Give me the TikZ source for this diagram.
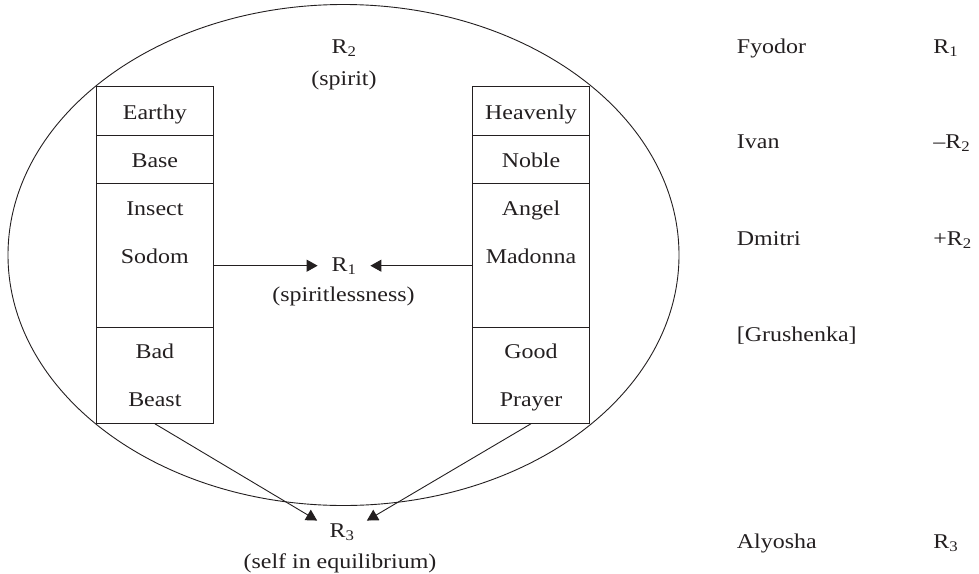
\documentclass[tikz,border=0pt]{standalone}
\usepackage{fontspec}
\setmainfont{Liberation Serif}[FakeStretch=1.14]
\usepackage{xcolor}
\usepackage{tikz}
\usetikzlibrary{arrows.meta}

\definecolor{ink}{RGB}{35,31,32}
\newcommand{\wordfont}{\fontsize{21}{29}\selectfont}

\tikzset{
	>={Triangle[length=11pt,width=12pt]},
	cellbox/.style = {
			draw,
			rectangle,
			inner sep = 0pt,
			minimum width = 116.5pt,
		},
	celltext/.style = {
			inner sep = 0pt,
			anchor = base,
			font = \wordfont,
		},
	rtag/.style = {
			celltext,
			text height = 14pt,
			text depth = 2pt,
			inner ysep = 2pt,
		},
	persona/.style = {
			celltext,
			anchor = base west,
		}
}

\begin{document}
\begin{tikzpicture}[x=1pt,y=-1pt,line width=0.9pt,draw=ink,text=ink]
		\useasboundingbox (0,0) rectangle (979,573);

		\draw (343.5,255) ellipse [x radius=335.5pt, y radius=250.5pt];

		% left column
		\node[cellbox, minimum height=48.3pt] (lcell1) at (154.85,110.85) {};
		\node[cellbox, minimum height=48.3pt] (lcell2) at (154.85,159.15) {};
		\node[cellbox, minimum height=144pt] (lcell3) at (154.85,255.3) {};
		\node[cellbox, minimum height=96pt] (lcell4) at (154.85,375.3) {};

		\node[celltext] (earthy) at (154.85,119.3) {Earthy};
		\node[celltext] (base) at (154.85,167.3) {Base};
		\node[celltext] (insect) at (154.85,215.3) {Insect};
		\node[celltext] (sodom) at (154.85,263.3) {Sodom};
		\node[celltext] (bad) at (154.85,358.8) {Bad};
		\node[celltext] (beast) at (154.85,406.8) {Beast};

		% right column
		\node[cellbox, minimum height=48.3pt] (rcell1) at (531,110.85) {};
		\node[cellbox, minimum height=48.3pt] (rcell2) at (531,159.15) {};
		\node[cellbox, minimum height=144pt] (rcell3) at (531,255.3) {};
		\node[cellbox, minimum height=96pt] (rcell4) at (531,375.3) {};

		\node[celltext] (heavenly) at (531,119.3) {Heavenly};
		\node[celltext] (noble) at (531,167.3) {Noble};
		\node[celltext] (angel) at (531,215.3) {Angel};
		\node[celltext] (madonna) at (531,263.3) {Madonna};
		\node[celltext] (good) at (531,358.8) {Good};
		\node[celltext] (prayer) at (531,406.8) {Prayer};

		\node[celltext] (r2) at (344,53.5) {R\textsubscript{2}};
		\node[celltext] (spirit) at (344,85) {(spirit)};

		\node[rtag, inner xsep=13.5pt] (r1) at (344,271.7) {R\textsubscript{1}};
		\node[celltext] (spiritless) at (343.5,301.5) {(spiritlessness)};

		\node[rtag, inner xsep=12pt] (r3) at (342,537) {R\textsubscript{3}};
		\node[celltext] (equilibrium) at (340,568) {(self in equilibrium)};

		\draw[->] (lcell3.east |- r1.west) -- (r1.west);
		\draw[->] (rcell3.west |- r1.east) -- (r1.east);
		\draw[->] (lcell4.south) -- (r3.north west);
		\draw[->] (rcell4.south) -- (r3.north east);

		\node[persona] (fyodor) at (736.5,53.3) {Fyodor};
		\node[persona] (ivan) at (736.5,148.3) {Ivan};
		\node[persona] (dmitri) at (736.5,245) {Dmitri};
		\node[persona] (grushenka) at (736.5,341) {[Grushenka]};
		\node[persona] (alyosha) at (736.5,548.3) {Alyosha};

		\node[persona] (fyodorR) at (933,53.3) {R\textsubscript{1}};
		\node[persona] (ivanR) at (933,148.3) {--R\textsubscript{2}};
		\node[persona] (dmitriR) at (933,245) {+R\textsubscript{2}};
		\node[persona] (alyoshaR) at (933,548.3) {R\textsubscript{3}};
	\end{tikzpicture}
\end{document}
